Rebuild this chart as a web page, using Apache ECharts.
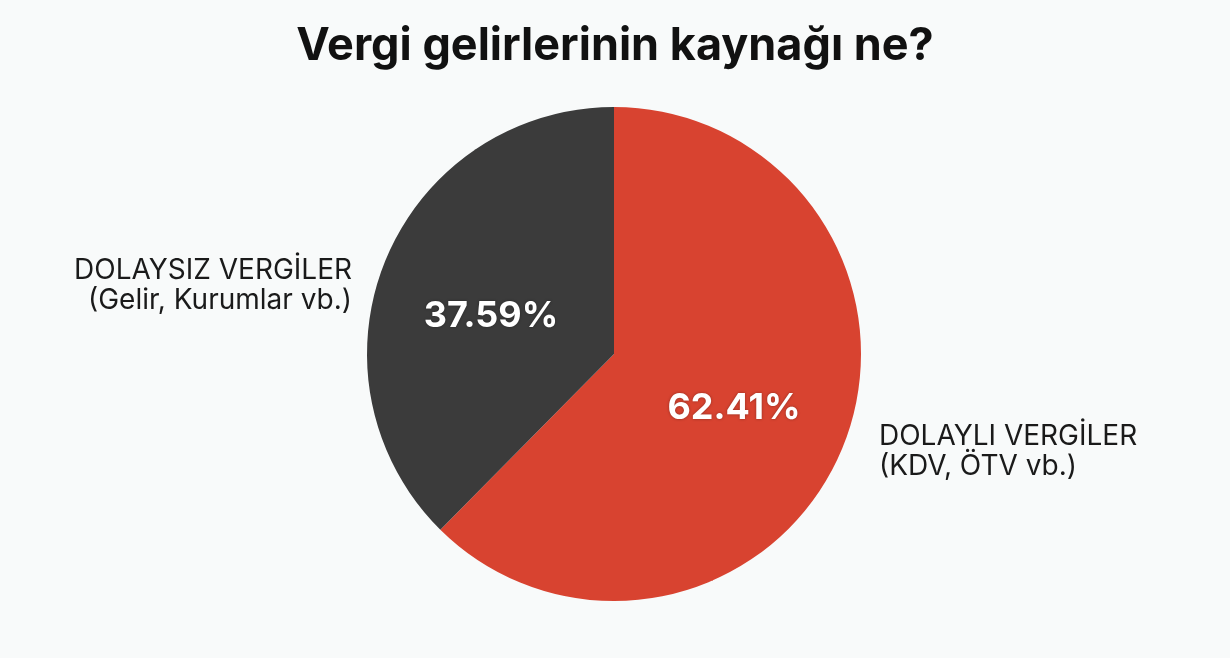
<!DOCTYPE html>
<html>
<head>
<meta charset="utf-8">
<script src="https://cdn.jsdelivr.net/npm/echarts@6/dist/echarts.min.js"></script>
<style>
html,body{margin:0;padding:0;background:#f8fafa;}
#chart{width:1230px;height:658px;}
</style>
</head>
<body>
<div id="chart"></div>
<script>
const titleText = 'Vergi gelirlerinin kaynağı ne?';
const categories = ['DOLAYLI VERGİLER', 'DOLAYSIZ VERGİLER'];
const subLabels = ['(KDV, ÖTV vb.)', '(Gelir, Kurumlar vb.)'];
const values = [62.41, 37.59];
const colors = ['#d84330', '#3b3b3b'];

const chart = echarts.init(document.getElementById('chart'), null, {renderer: 'canvas'});
const center = [614, 354];
const radius = 247;
const outerPos = [
  {x: 879, y: 452, align: 'left'},
  {x: 352, y: 286, align: 'right'}
];
const innerPos = [
  {x: 734, y: 408},
  {x: 491, y: 316}
];
const data = categories.map((c, i) => ({
  name: c, value: values[i], sub: subLabels[i],
  itemStyle: {color: colors[i]}
}));

chart.setOption({
  backgroundColor: '#f8fafa',
  animation: false,
  title: {
    text: titleText, left: 'center', top: 19,
    textStyle: {fontFamily: 'Inter', fontWeight: 'bold', fontSize: 45, color: '#111'}
  },
  series: [
    {
      type: 'pie', center: center, radius: radius, startAngle: 90, clockwise: true,
      silent: true,
      itemStyle: {borderWidth: 0},
      label: {
        position: 'inside',
        formatter: p => p.value.toFixed(2) + '%',
        fontFamily: 'Inter', fontWeight: 'bold', fontSize: 36, color: '#fff',
        textShadowColor: 'rgba(0,0,0,0.35)', textShadowBlur: 3
      },
      labelLayout: p => ({x: innerPos[p.dataIndex].x, y: innerPos[p.dataIndex].y, align: 'center', verticalAlign: 'middle'}),
      data: data
    },
    {
      type: 'pie', center: center, radius: radius, startAngle: 90, clockwise: true,
      silent: true,
      itemStyle: {color: 'transparent', borderWidth: 0},
      label: {
        position: 'outside',
        formatter: p => p.data.name + '\n' + p.data.sub,
        fontFamily: 'Inter', fontSize: 28, lineHeight: 30, color: '#1a1a1a'
      },
      labelLine: {show: false},
      labelLayout: p => ({x: outerPos[p.dataIndex].x, y: outerPos[p.dataIndex].y, align: outerPos[p.dataIndex].align, verticalAlign: 'middle'}),
      data: data.map(d => ({name: d.name, value: d.value, sub: d.sub}))
    }
  ]
});
</script>
</body>
</html>
